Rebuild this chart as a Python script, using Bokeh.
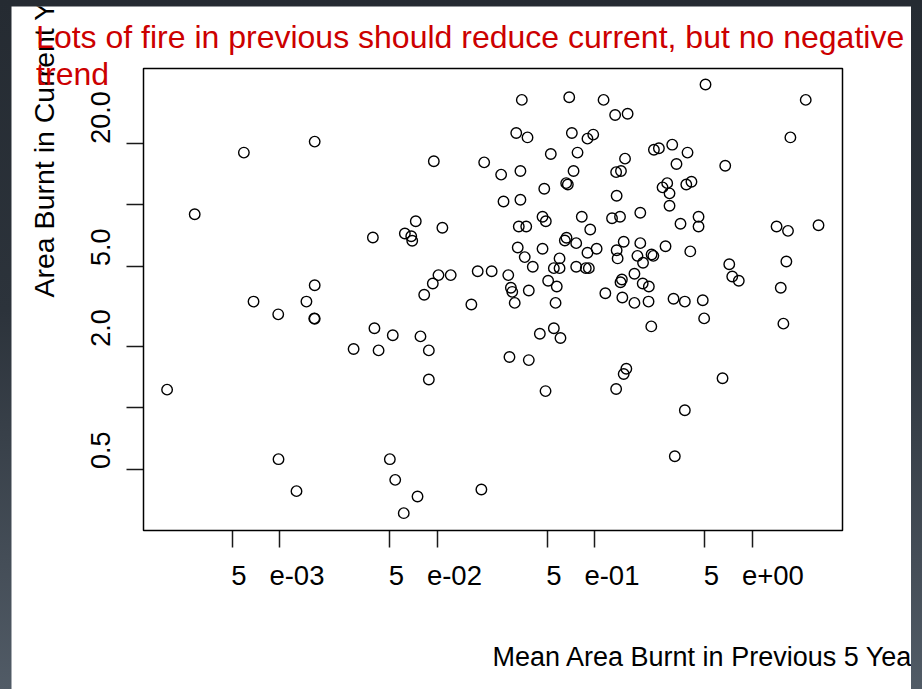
import math
from bokeh.plotting import figure
from bokeh.models import (Range1d, FixedTicker, Label, LabelSet, ColumnDataSource,
                          Spacer, BoxAnnotation, CustomJSTickFormatter)
from bokeh.layouts import column, row
from bokeh.embed import file_html
from bokeh.resources import INLINE
from bokeh.core.properties import value

# ---- data ----
prev_mean = [
    0.0167, 0.00593, 0.0953, 0.199, 0.00289, 0.0732, 0.108, 0.0391, 0.0624, 0.0685,
    0.0695, 0.102, 0.122, 0.181, 0.222, 0.0939, 0.0828, 0.165, 0.0167, 0.00683,
    0.0148, 0.0098, 0.0166, 0.0167, 0.0400, 0.0523, 0.0784, 0.0295, 0.0425, 0.0886,
    0.0886, 0.00193, 0.00984, 0.0501, 0.0542, 0.0128, 0.0751, 0.191, 0.0614,
    5.06, 21.9, 0.345, 0.690, 1.14, 1.35, 1.62, 0.318, 0.375, 0.717,
    0.901, 0.980, 17.5, 2.38, 2.56, 3.11, 3.89, 0.527, 0.779, 1.56,
    3.31, 6.75, 0.255, 0.338, 0.735, 1.37, 1.47, 0.660, 0.676, 0.479,
    2.70, 2.89, 2.99, 3.82, 4.12, 1.38, 0.264, 0.338, 2.99, 0.467,
    0.490, 0.829, 1.29, 1.45, 1.95, 4.57, 4.57, 3.51, 14.3, 16.9,
    26.4, 0.330, 0.368, 0.938, 0.647, 0.663, 0.764, 1.53, 1.95, 2.82,
    0.325, 0.467, 1.03, 1.38, 4.05, 0.360, 0.599, 0.901, 1.40, 1.87,
    2.30, 2.36, 16.5, 7.16, 0.405, 0.551, 0.599, 0.764, 0.879, 0.919,
    2.03, 0.283, 0.507, 0.575, 1.49, 1.46, 1.79, 2.02, 2.21, 7.48,
    8.23, 0.294, 0.300, 0.311, 0.382, 0.565, 1.17, 1.50, 1.79, 2.20,
    3.17, 3.74, 4.86, 15.2, 4.96, 2.29, 15.8, 0.449, 0.551, 0.607,
    0.288, 0.382, 1.59, 1.53, 1.37, 0.488, 6.49, 3.74, 3.23,
]
current = [
    20.5, 18.1, 16.4, 16.2, 9.00, 8.31, 7.71, 6.91, 7.23, 7.01,
    6.66, 4.51, 4.51, 4.71, 4.71, 4.10, 3.61, 3.23, 4.02, 3.34,
    3.34, 2.89, 2.76, 2.75, 2.47, 2.28, 2.25, 1.95, 1.92, 1.92,
    1.38, 1.23, 0.559, 0.559, 0.442, 0.389, 0.366, 0.396, 0.303,
    39.2, 32.9, 32.9, 33.9, 32.9, 27.7, 28.1, 22.6, 21.5, 22.6,
    21.2, 22.2, 21.5, 18.7, 19.0, 19.8, 18.1, 17.8, 18.1, 16.9,
    15.9, 15.6, 14.1, 14.7, 14.7, 14.5, 14.7, 12.8, 12.6, 12.0,
    12.2, 12.8, 11.4, 12.6, 13.0, 11.1, 10.4, 10.6, 9.90, 8.74,
    8.31, 8.74, 8.60, 8.74, 9.14, 8.74, 7.83, 8.07, 7.83, 7.45,
    7.94, 7.83, 7.83, 7.56, 6.68, 6.89, 6.48, 6.58, 6.48, 6.26,
    6.17, 6.08, 6.08, 5.98, 5.90, 5.53, 5.45, 5.81, 5.45, 5.61,
    5.70, 5.61, 5.26, 5.10, 4.96, 4.88, 4.88, 4.96, 4.88, 4.88,
    5.19, 4.51, 4.23, 3.96, 4.29, 4.16, 4.58, 4.10, 3.96, 4.44,
    4.23, 3.91, 3.73, 3.29, 3.79, 3.29, 3.67, 3.50, 3.29, 3.34,
    3.45, 3.34, 3.39, 3.91, 2.76, 2.52, 2.60, 2.32, 2.47, 2.21,
    1.78, 1.72, 1.56, 1.47, 1.24, 1.21, 1.40, 0.974, 0.578,
]

x_ticks = [0.005, 0.01, 0.05, 0.1, 0.5, 1, 5, 10]
x_label_vals = [0.005, 0.05, 0.5, 5]
NB = "\u00a0"
x_tick_labels = ["5" + NB * 3 + "e-03", "5" + NB * 3 + "e-02",
                 "5" + NB * 3 + "e-01", "5" + NB * 3 + "e+00"]
y_ticks = [0.5, 1, 2, 5, 10, 20]
y_label_vals = [0.5, 2, 5, 20]
y_tick_labels = ["0.5", "2.0", "5.0", "20.0"]

# plotting limits of the boxed region (log axes)
xlim = (1.367e-3, 37.49)
ylim = (0.2489, 46.98)

title_text = "Lots of fire in previous should reduce current, but no negative\ntrend"
x_title = "Mean Area Burnt in Previous 5 Years"
y_title = "Area Burnt in Current Year"

FONT = "Liberation Sans"

# ---- geometry: the whole white page is the frame; the box sits inside it ----
W, H = 900, 683
box_l, box_r, box_t, box_b = 132, 831, 62, 524   # box position in the page (px)
kx = (math.log10(xlim[1]) - math.log10(xlim[0])) / (box_r - box_l)
ky = (math.log10(ylim[1]) - math.log10(ylim[0])) / (box_b - box_t)
x_start = 10 ** (math.log10(xlim[0]) - box_l * kx)
x_end = 10 ** (math.log10(xlim[1]) + (W - box_r) * kx)
y_start = 10 ** (math.log10(ylim[0]) - (H - box_b) * ky)
y_end = 10 ** (math.log10(ylim[1]) + box_t * ky)

p = figure(width=W, height=H, x_axis_type="log", y_axis_type="log",
           x_range=Range1d(x_start, x_end), y_range=Range1d(y_start, y_end),
           x_axis_location="above", y_axis_location="right",
           output_backend="svg", toolbar_location=None, title=None,
           min_border=0)
p.background_fill_color = "white"
p.border_fill_color = "white"
p.outline_line_color = None
p.grid.visible = False

blank = CustomJSTickFormatter(code="return ''")
xa = p.xaxis[0]
xa.fixed_location = ylim[0]
xa.ticker = FixedTicker(ticks=x_ticks, minor_ticks=[])
ya = p.yaxis[0]
ya.fixed_location = xlim[0]
ya.ticker = FixedTicker(ticks=y_ticks, minor_ticks=[])
for ax in (xa, ya):
    ax.formatter = blank
    ax.axis_line_color = None
    ax.major_tick_in = 17
    ax.major_tick_out = 0
    ax.minor_tick_in = 0
    ax.minor_tick_out = 0
    ax.major_tick_line_color = "#1a1a1a"
    ax.major_tick_line_width = 1.5
    ax.minor_tick_line_color = None
    ax.major_label_standoff = 0
    ax.major_label_text_font_size = "0px"

# the box round the data region
p.add_layout(BoxAnnotation(left=xlim[0], right=xlim[1], bottom=ylim[0], top=ylim[1],
                           fill_color=None, fill_alpha=0, line_color="black",
                           line_alpha=1.0, line_width=1.5))

p.scatter(prev_mean, current, marker="circle", size=10.5,
          fill_color=None, line_color="black", line_width=1.4)

# tick labels (they start at their tick, as in the picture)
xsrc = ColumnDataSource(dict(x=x_label_vals, text=x_tick_labels))
p.add_layout(LabelSet(x="x", y=104.7, y_units="screen", text="text", source=xsrc,
                      text_font=value(FONT), text_font_size="27.5px",
                      text_align="left", text_baseline="alphabetic",
                      text_color="black", x_offset=-1))
ysrc = ColumnDataSource(dict(y=y_label_vals, text=y_tick_labels))
p.add_layout(LabelSet(x=99, x_units="screen", y="y", text="text", source=ysrc,
                      angle=math.pi / 2, text_font=value(FONT), text_font_size="27px",
                      text_align="left", text_baseline="alphabetic",
                      text_color="black"))

# axis titles
p.add_layout(Label(x=481, y=32.3, x_units="screen", y_units="screen",
                   text=x_title, text_font=FONT, text_font_size="27px",
                   text_align="left", text_baseline="alphabetic", text_color="black"))
p.add_layout(Label(x=32.3, y=392, x_units="screen", y_units="screen",
                   angle=math.pi / 2, text=y_title, text_font=FONT, text_font_size="28.5px",
                   text_align="left", text_baseline="alphabetic", text_color="black"))

# title (drawn over the y title, as on the slide)
p.add_layout(Label(x=24.6, y=670.3, x_units="screen", y_units="screen",
                   text=title_text, text_font=FONT, text_font_size="32px",
                   text_align="left", text_baseline="top", text_color="#CC0000",
                   text_line_height=1.03))

bg = {"background": "linear-gradient(to bottom, #252b32 0%, #2c333b 45%, #515b66 100%)"}
root = column(
    Spacer(width=922, height=6),
    row(Spacer(width=11, height=683), p, Spacer(width=11, height=683)),
    width=922, height=689, styles=bg,
)

open("out.html", "w").write(file_html(root, INLINE))
